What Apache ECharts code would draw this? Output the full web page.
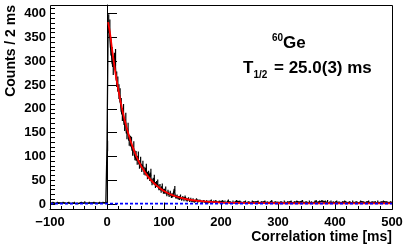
<!DOCTYPE html>
<html>
<head>
<meta charset="utf-8">
<script src="https://cdn.jsdelivr.net/npm/echarts@6/dist/echarts.min.js"></script>
<style>
html,body{margin:0;padding:0;background:#fff;}
#c{width:415px;height:247px;}
</style>
</head>
<body>
<div id="c"></div>
<script>
// ---- data ----
var binStart = -100;   // ms, first bin lower edge
var binWidth = 2;      // ms
// counts per 2 ms bin, from -100 ms to 500 ms
var countsBefore = [2,1,3,2,1,2,3,1,2,2,1,3,2,2,1,2,3,2,1,2,2,3,1,2,2,1,2,3,2,2,4,2,1,2,3,2,2,1,3,2,2,1,2,3,2,2,3,2,2,3];
var countsDecay = [122,
  379,368,330,312,288,300,308,262,252,236,
  228,208,188,196,166,178,148,158,134,132,
  130,112,121,102,101,92,100,83,90,76,
  82,70,68,76,60,62,56,66,46,48,
  54,40,42,45,35,36,29,37,27,27,
  31,21,25,19,23,17,18,20,32,15,
  16,13,12,16,10,13,9,14,9,8,
  11,7,10,6,9,5,7,9,5,6,
  7,5,4,6,5,4,6,3,5,4,
  7,3,5,4,6,3,4,5,3];
var countsTail = [4,6,3,5,2,4,7,3,4,2,5,3,4,6,2,3,5,4,2,3,4,5,2,3,4,3,2,5,3,2,4,3,5,2,3,4,2,3,5,2,4,3,2,3,6,2,3,4,2,3,
  3,2,4,3,2,5,3,2,4,2,3,5,2,3,4,2,5,3,2,4,3,6,2,3,4,3,2,5,3,4,2,3,5,6,3,4,5,2,6,3,4,5,3,6,2,4,5,3,4,2,
  3,5,2,4,3,2,4,3,5,2,3,2,4,3,2,5,3,2,4,3,2,3,5,2,4,3,2,4,3,5,2,3,4,2,3,4,2,5,3,2,4,3,5,2,3,4,3,2,4,3];
// fit curve
var fitT = [2,5,10,15,20,25,30,35,40,45,50,55,60,70,80,90,100,110,120,130,140,160,180,200,250,300,400,500];
var fitY = [382,361,315,274,239,208,181,158,137.5,120,104.5,91,79.5,60.7,46.4,35.6,27.3,21,16.3,12.8,10,6.4,4.3,3.1,1.9,1.6,1.5,1.5];
// background level
var bgT = [-100, 500];
var bgY = [0.8, 0.8];
// axis ticks
var xMin = -100, xMax = 500, xStep = 100;
var yMajor = [0,50,100,150,200,250,300,350,400];
var yMinor = [-10,0,10,20,30,40,50,60,70,80,90,100,110,120,130,140,150,160,170,180,190,200,210,220,230,240,250,260,270,280,290,300,310,320,330,340,350,360,370,380,390,400,410];
var yLo = -11.5, yHi = 417.8;

var counts = countsBefore.concat(countsDecay, countsTail);
var histData = counts.map(function(v,i){ return [binStart + binWidth*(i+0.5), v]; });
// statistical (Poisson) error bars of each bin
var errData = counts.map(function(v,i){ var e=Math.sqrt(v); return [binStart + binWidth*(i+0.5), v-e, v+e]; });
var fitData = fitT.map(function(t,i){ return [t, fitY[i]]; });
var bgData = bgT.map(function(t,i){ return [t, bgY[i]]; });

var FONT = 'Liberation Sans, Arial, Helvetica, sans-serif';
var chart = echarts.init(document.getElementById('c'), null, {renderer:'canvas'});
chart.setOption({
  animation:false,
  backgroundColor:'#fff',
  grid:{left:50, right:23, top:5, bottom:37.5, containLabel:false},
  xAxis:{
    type:'value', min:xMin, max:xMax, interval:xStep,
    axisLine:{show:true, onZero:false, lineStyle:{color:'#000', width:1}},
    axisTick:{show:true, inside:true, length:7, lineStyle:{color:'#000'}},
    minorTick:{show:true, splitNumber:5, length:3.5, lineStyle:{color:'#000'}},
    axisLabel:{show:true, margin:6, color:'#000', fontFamily:FONT, fontWeight:'bold', fontSize:13,
      showMinLabel:true, showMaxLabel:true,
      formatter:function(v){ return v<0 ? '\u2212'+Math.abs(v) : String(v); }},
    splitLine:{show:false}
  },
  yAxis:[{
    type:'value', min:yLo, max:yHi, position:'left',
    axisLine:{show:true, lineStyle:{color:'#000', width:1}},
    axisTick:{show:true, inside:true, length:10, customValues:yMajor, lineStyle:{color:'#000'}},
    axisLabel:{show:true, margin:4, color:'#000', fontFamily:FONT, fontWeight:'bold', fontSize:13, customValues:yMajor},
    splitLine:{show:false}
  },{
    type:'value', min:yLo, max:yHi, position:'left',
    axisLine:{show:false},
    axisTick:{show:true, inside:true, length:5, customValues:yMinor, lineStyle:{color:'#000'}},
    axisLabel:{show:false},
    splitLine:{show:false}
  }],
  series:[
    {type:'custom', name:'err', data:errData, z:3, clip:true,
      renderItem:function(params, api){
        var lo = api.coord([api.value(0), api.value(1)]);
        var hi = api.coord([api.value(0), api.value(2)]);
        return {type:'line', shape:{x1:lo[0], y1:lo[1], x2:hi[0], y2:hi[1]},
          style:{stroke:'#000', lineWidth:1.2}};
      }},
    {type:'line', name:'hist', data:histData, step:'middle', symbol:'none', z:3,
      lineStyle:{color:'#000', width:1.3}},
    {type:'line', name:'fit', data:fitData, smooth:0.3, symbol:'none', z:4,
      lineStyle:{color:'#ff0000', width:1.8}},
    {type:'line', name:'bg', data:bgData, symbol:'none', z:5,
      lineStyle:{color:'#0000ff', width:1.8, type:[3,2]}}
  ],
  graphic:[
    {type:'rect', shape:{x:50.5, y:5.5, width:342, height:204}, style:{fill:'none', stroke:'#000', lineWidth:1}, z:100, silent:true},
    {type:'text', x:11, y:5, rotation:Math.PI/2, style:{text:'Counts / 2 ms', fill:'#000', font:'bold 14px '+FONT, textAlign:'right', textVerticalAlign:'middle'}},
    {type:'text', x:392, y:237, style:{text:'Correlation time [ms]', fill:'#000', font:'bold 14px '+FONT, textAlign:'right', textVerticalAlign:'middle'}},
    {type:'text', x:283, y:38, style:{text:'60', fill:'#000', font:'bold 10px '+FONT, textAlign:'right', textVerticalAlign:'middle'}},
    {type:'text', x:283, y:43.5, style:{text:'Ge', fill:'#000', font:'bold 17px '+FONT, textAlign:'left', textVerticalAlign:'middle'}},
    {type:'text', x:243, y:68.7, style:{text:'T', fill:'#000', font:'bold 17px '+FONT, textAlign:'left', textVerticalAlign:'middle'}},
    {type:'text', x:253.5, y:75, style:{text:'1/2', fill:'#000', font:'bold 10px '+FONT, textAlign:'left', textVerticalAlign:'middle'}},
    {type:'text', x:274, y:68.7, style:{text:'= 25.0(3) ms', fill:'#000', font:'bold 17px '+FONT, textAlign:'left', textVerticalAlign:'middle'}}
  ]
});
</script>
</body>
</html>
